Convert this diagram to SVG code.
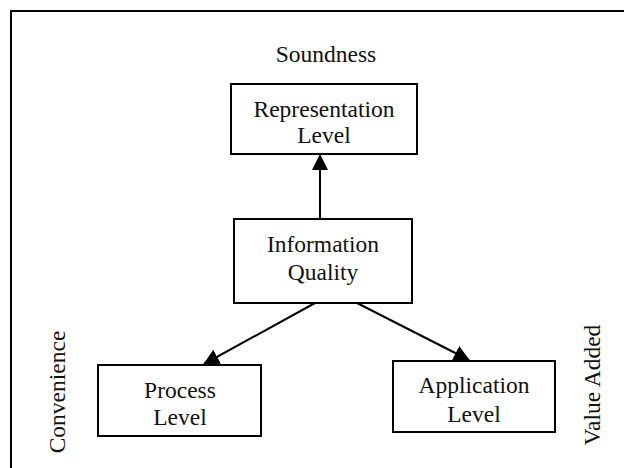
<svg xmlns="http://www.w3.org/2000/svg" width="624" height="468" viewBox="0 0 624 468">
  <style>
    .box { fill: #ffffff; stroke: #000000; stroke-width: 2; }
    .lbl { font-family: "Liberation Serif", "Times New Roman", serif; font-size: 23.5px; fill: #111111; text-anchor: middle; }
    .edge { fill: none; stroke: #000000; stroke-width: 2; }
  </style>
  <defs>
    <marker id="arrow" viewBox="0 0 16 16" refX="15" refY="8" markerWidth="16" markerHeight="16" markerUnits="userSpaceOnUse" orient="auto">
      <path d="M0,0 L16,8 L0,16 Z" fill="#000000"/>
    </marker>
  </defs>
  <rect width="624" height="468" fill="#ffffff"/>
  <!-- frame; runs off the right and bottom edges -->
  <rect x="11" y="11" width="700" height="600" fill="none" stroke="#000000" stroke-width="2"/>

  <g id="connectors">
    <line class="edge" x1="320" y1="219" x2="320" y2="155" marker-end="url(#arrow)"/>
    <line class="edge" x1="315" y1="303" x2="204" y2="364" marker-end="url(#arrow)"/>
    <line class="edge" x1="357" y1="303" x2="469" y2="360" marker-end="url(#arrow)"/>
  </g>

  <g id="soundness">
    <text class="lbl" x="326" y="62">Soundness</text>
  </g>
  <g id="representation-level">
    <rect class="box" x="231" y="84" width="186" height="70"/>
    <text class="lbl" x="324" y="117">Representation</text>
    <text class="lbl" x="324" y="143">Level</text>
  </g>
  <g id="information-quality">
    <rect class="box" x="234" y="219" width="178" height="84"/>
    <text class="lbl" x="323" y="252">Information</text>
    <text class="lbl" x="323" y="280">Quality</text>
  </g>
  <g id="process-level">
    <rect class="box" x="98" y="365" width="163" height="71"/>
    <text class="lbl" x="180" y="398">Process</text>
    <text class="lbl" x="180" y="425">Level</text>
  </g>
  <g id="application-level">
    <rect class="box" x="393" y="361" width="162" height="71"/>
    <text class="lbl" x="474" y="393">Application</text>
    <text class="lbl" x="474" y="422">Level</text>
  </g>
  <g id="convenience">
    <text class="lbl" transform="translate(65,392) rotate(-90)">Convenience</text>
  </g>
  <g id="value-added">
    <text class="lbl" transform="translate(600,385) rotate(-90)">Value Added</text>
  </g>
</svg>
